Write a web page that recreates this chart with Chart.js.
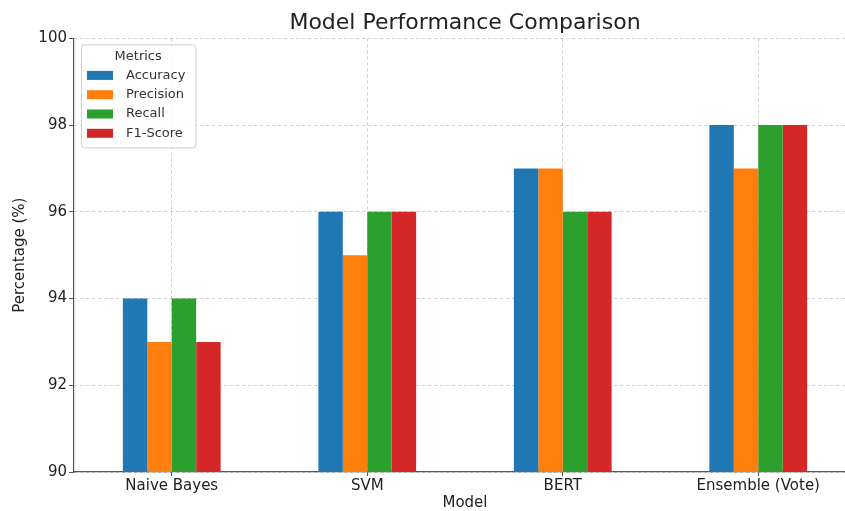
<!DOCTYPE html>
<html>
<head>
<meta charset="utf-8">
<script src="https://cdn.jsdelivr.net/npm/chart.js@4/dist/chart.umd.min.js"></script>
<style>
    html, body { margin: 0; padding: 0; background: #fff; overflow: hidden; }
    /* the original figure is cropped on the right, so the canvas runs a bit past the window */
    #wrap { width: 845px; height: 511px; overflow: hidden; }
</style>
</head>
<body>
<div id="wrap"><canvas id="perfChart" width="856" height="511"></canvas></div>
<script>
const models = ['Naive Bayes', 'SVM', 'BERT', 'Ensemble (Vote)'];
const metricNames = ['Accuracy', 'Precision', 'Recall', 'F1-Score'];
const accuracy = [94, 96, 97, 98];
const precision = [93, 95, 97, 97];
const recall = [94, 96, 96, 98];
const f1Score = [93, 96, 96, 98];
const yMin = 90;
const yMax = 100;
const yStep = 2;

const colors = ['#1f77b4', '#ff7f0e', '#2ca02c', '#d62728'];
const seriesValues = [accuracy, precision, recall, f1Score];
const FONT = "'DejaVu Sans', sans-serif";

// matplotlib-style legend box in the upper left of the plot
const boxLegend = {
    id: 'boxLegend',
    afterDraw(chart) {
        const ctx = chart.ctx;
        const area = chart.chartArea;
        const x = area.left + 7;
        const y = area.top + 6;
        ctx.save();
        ctx.font = '13px ' + FONT;
        let textW = 0;
        chart.data.datasets.forEach(function (ds) {
            textW = Math.max(textW, ctx.measureText(ds.label).width);
        });
        const w = 6 + 26 + 13 + textW + 10;
        const h = 103;
        ctx.fillStyle = 'rgba(255,255,255,0.85)';
        ctx.strokeStyle = '#d0d0d0';
        ctx.lineWidth = 1;
        ctx.beginPath();
        ctx.roundRect(x + 0.5, y + 0.5, w, h, 3);
        ctx.fill();
        ctx.stroke();

        ctx.fillStyle = '#333';
        ctx.textAlign = 'center';
        ctx.textBaseline = 'middle';
        ctx.fillText('Metrics', x + w / 2, y + 12);

        ctx.textAlign = 'left';
        chart.data.datasets.forEach(function (ds, i) {
            const rowY = y + 31 + i * 19.3;
            ctx.fillStyle = ds.backgroundColor;
            ctx.fillRect(x + 6, rowY - 4.5, 26, 9);
            ctx.fillStyle = '#333';
            ctx.fillText(ds.label, x + 45, rowY);
        });
        ctx.restore();
    },
};

new Chart(document.getElementById('perfChart'), {
    type: 'bar',
    data: {
        labels: models,
        datasets: metricNames.map(function (name, i) {
            return {
                label: name,
                data: seriesValues[i],
                backgroundColor: colors[i],
                borderWidth: 0,
                categoryPercentage: 0.5,
                barPercentage: 1.0,
            };
        }),
    },
    options: {
        responsive: false,
        animation: false,
        plugins: {
            legend: { display: false },
            tooltip: { enabled: false },
            title: {
                display: true,
                fullSize: false,
                text: 'Model Performance Comparison',
                color: '#222',
                font: { family: FONT, size: 22, weight: 'normal', lineHeight: 1.2 },
                padding: { top: 10, bottom: 2 },
            },
        },
        scales: {
            x: {
                offset: true,
                grid: {
                    offset: false,
                    color: 'rgba(0,0,0,0.2)',
                    tickLength: 4,
                    tickColor: '#555',
                    tickBorderDash: [],
                },
                border: { color: '#555', width: 1.2, dash: [3, 3] },
                ticks: {
                    color: '#222',
                    padding: 1,
                    maxRotation: 0,
                    font: { family: FONT, size: 15 },
                },
                title: {
                    display: true,
                    text: 'Model',
                    color: '#222',
                    font: { family: FONT, size: 15, lineHeight: 1 },
                    padding: { top: 0, bottom: 0 },
                },
                afterFit: function (scale) {
                    scale.height = 39;
                },
            },
            y: {
                min: yMin,
                max: yMax,
                grid: {
                    color: 'rgba(0,0,0,0.2)',
                    tickLength: 5,
                    tickColor: '#555',
                    tickBorderDash: [],
                },
                border: { color: '#555', width: 1.2, dash: [3, 3] },
                ticks: {
                    stepSize: yStep,
                    color: '#222',
                    padding: 2,
                    font: { family: FONT, size: 15 },
                },
                title: {
                    display: true,
                    text: 'Percentage (%)',
                    color: '#222',
                    font: { family: FONT, size: 15 },
                    padding: { top: 11, bottom: 0 },
                },
                afterFit: function (scale) {
                    scale.width = 74;
                },
            },
        },
    },
    plugins: [boxLegend],
});
</script>
</body>
</html>
